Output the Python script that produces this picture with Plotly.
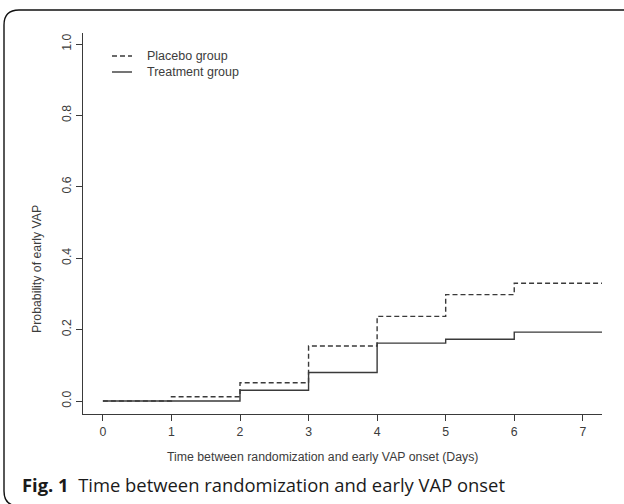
import plotly.graph_objects as go

# Kaplan-Meier style cumulative incidence of early VAP, by day since randomization
days = [0, 1, 2, 3, 4, 5, 6, 7.28]
placebo = [0.0, 0.012, 0.051, 0.154, 0.237, 0.298, 0.330, 0.330]
treatment = [0.0, 0.0, 0.030, 0.080, 0.162, 0.173, 0.193, 0.193]
group_names = ["Placebo group", "Treatment group"]

x_ticks = [0, 1, 2, 3, 4, 5, 6, 7]
y_ticks = [0.0, 0.2, 0.4, 0.6, 0.8, 1.0]
y_tick_text = ["0.0", "0.2", "0.4", "0.6", "0.8", "1.0"]

LINE = "#3a3a3a"
TEXT = "#3c3c3c"
SANS = "Liberation Sans, Arial, sans-serif"
AX_FONT = dict(family=SANS, size=12.3, color=TEXT)
DASH = "5px,3px"

fig = go.Figure()
fig.add_trace(go.Scatter(
    x=days, y=placebo, mode="lines", name=group_names[0], showlegend=False,
    line=dict(shape="hv", color=LINE, width=1.4, dash=DASH),
))
fig.add_trace(go.Scatter(
    x=days, y=treatment, mode="lines", name=group_names[1], showlegend=False,
    line=dict(shape="hv", color=LINE, width=1.4),
))

L, R, T, B = 83, 22, 33, 90
W, H = 624, 504
pw, ph = W - L - R, H - T - B

def px_x(px):
    return (px - L) / pw

def px_y(py):
    return (H - B - py) / ph

# framed panel with rounded left corners
left, top, right, bottom = px_x(4), px_y(10), px_x(640), px_y(506)
rx, ry = 15 / pw, 15 / ph
frame = (f"M{right},{top} L{left + rx},{top} Q{left},{top} {left},{top - ry} "
         f"L{left},{bottom + ry} Q{left},{bottom} {left + rx},{bottom} L{right},{bottom}")
fig.add_shape(type="path", path=frame, xref="paper", yref="paper",
              line=dict(color="#111111", width=1.4), layer="below")

# legend keys and labels, top-left inside the plot
annotations = []
for i, (name, dash) in enumerate(zip(group_names, [DASH, "solid"])):
    yy = px_y(56 + 16 * i)
    fig.add_shape(type="line", xref="paper", yref="paper",
                  x0=px_x(112), x1=px_x(132), y0=yy, y1=yy,
                  line=dict(color=LINE, width=1.4, dash=dash))
    annotations.append(dict(text=name, x=px_x(145), y=yy, xref="paper", yref="paper",
                            showarrow=False, xanchor="left", yanchor="middle",
                            font=dict(family=SANS, size=12.5, color=TEXT)))

annotations += [
    dict(text="Time between randomization and early VAP onset (Days)",
         x=px_x(322), y=px_y(457), xref="paper", yref="paper",
         showarrow=False, font=AX_FONT, xanchor="center", yanchor="middle"),
    dict(text="Probability of early VAP", textangle=-90,
         x=px_x(37), y=px_y(269), xref="paper", yref="paper",
         showarrow=False, font=AX_FONT, xanchor="center", yanchor="middle"),
    dict(text="<b>Fig. 1</b>  Time between randomization and early VAP onset",
         x=px_x(20), y=px_y(484), xref="paper", yref="paper",
         showarrow=False, xanchor="left", yanchor="middle",
         font=dict(family="Open Sans, Noto Sans, sans-serif", size=18.4, color="#1a1a1a")),
]

fig.update_layout(
    width=W, height=H,
    margin=dict(l=L, r=R, t=T, b=B),
    paper_bgcolor="white", plot_bgcolor="white",
    showlegend=False,
    xaxis=dict(range=[-0.29, 7.28], tickvals=x_ticks, ticks="outside", ticklen=6,
               tickwidth=1.2, tickcolor=LINE, showline=True, linecolor=LINE, linewidth=1.2,
               showgrid=False, zeroline=False, tickfont=AX_FONT, mirror=False),
    yaxis=dict(range=[-0.0364, 1.0308], tickvals=y_ticks, ticktext=y_tick_text,
               ticks="outside", ticklen=6, tickwidth=1.2, tickcolor=LINE, tickangle=-90,
               showline=True, linecolor=LINE, linewidth=1.2, showgrid=False,
               zeroline=False, tickfont=AX_FONT, mirror=False),
    annotations=annotations,
)

fig.write_html("out.html")
